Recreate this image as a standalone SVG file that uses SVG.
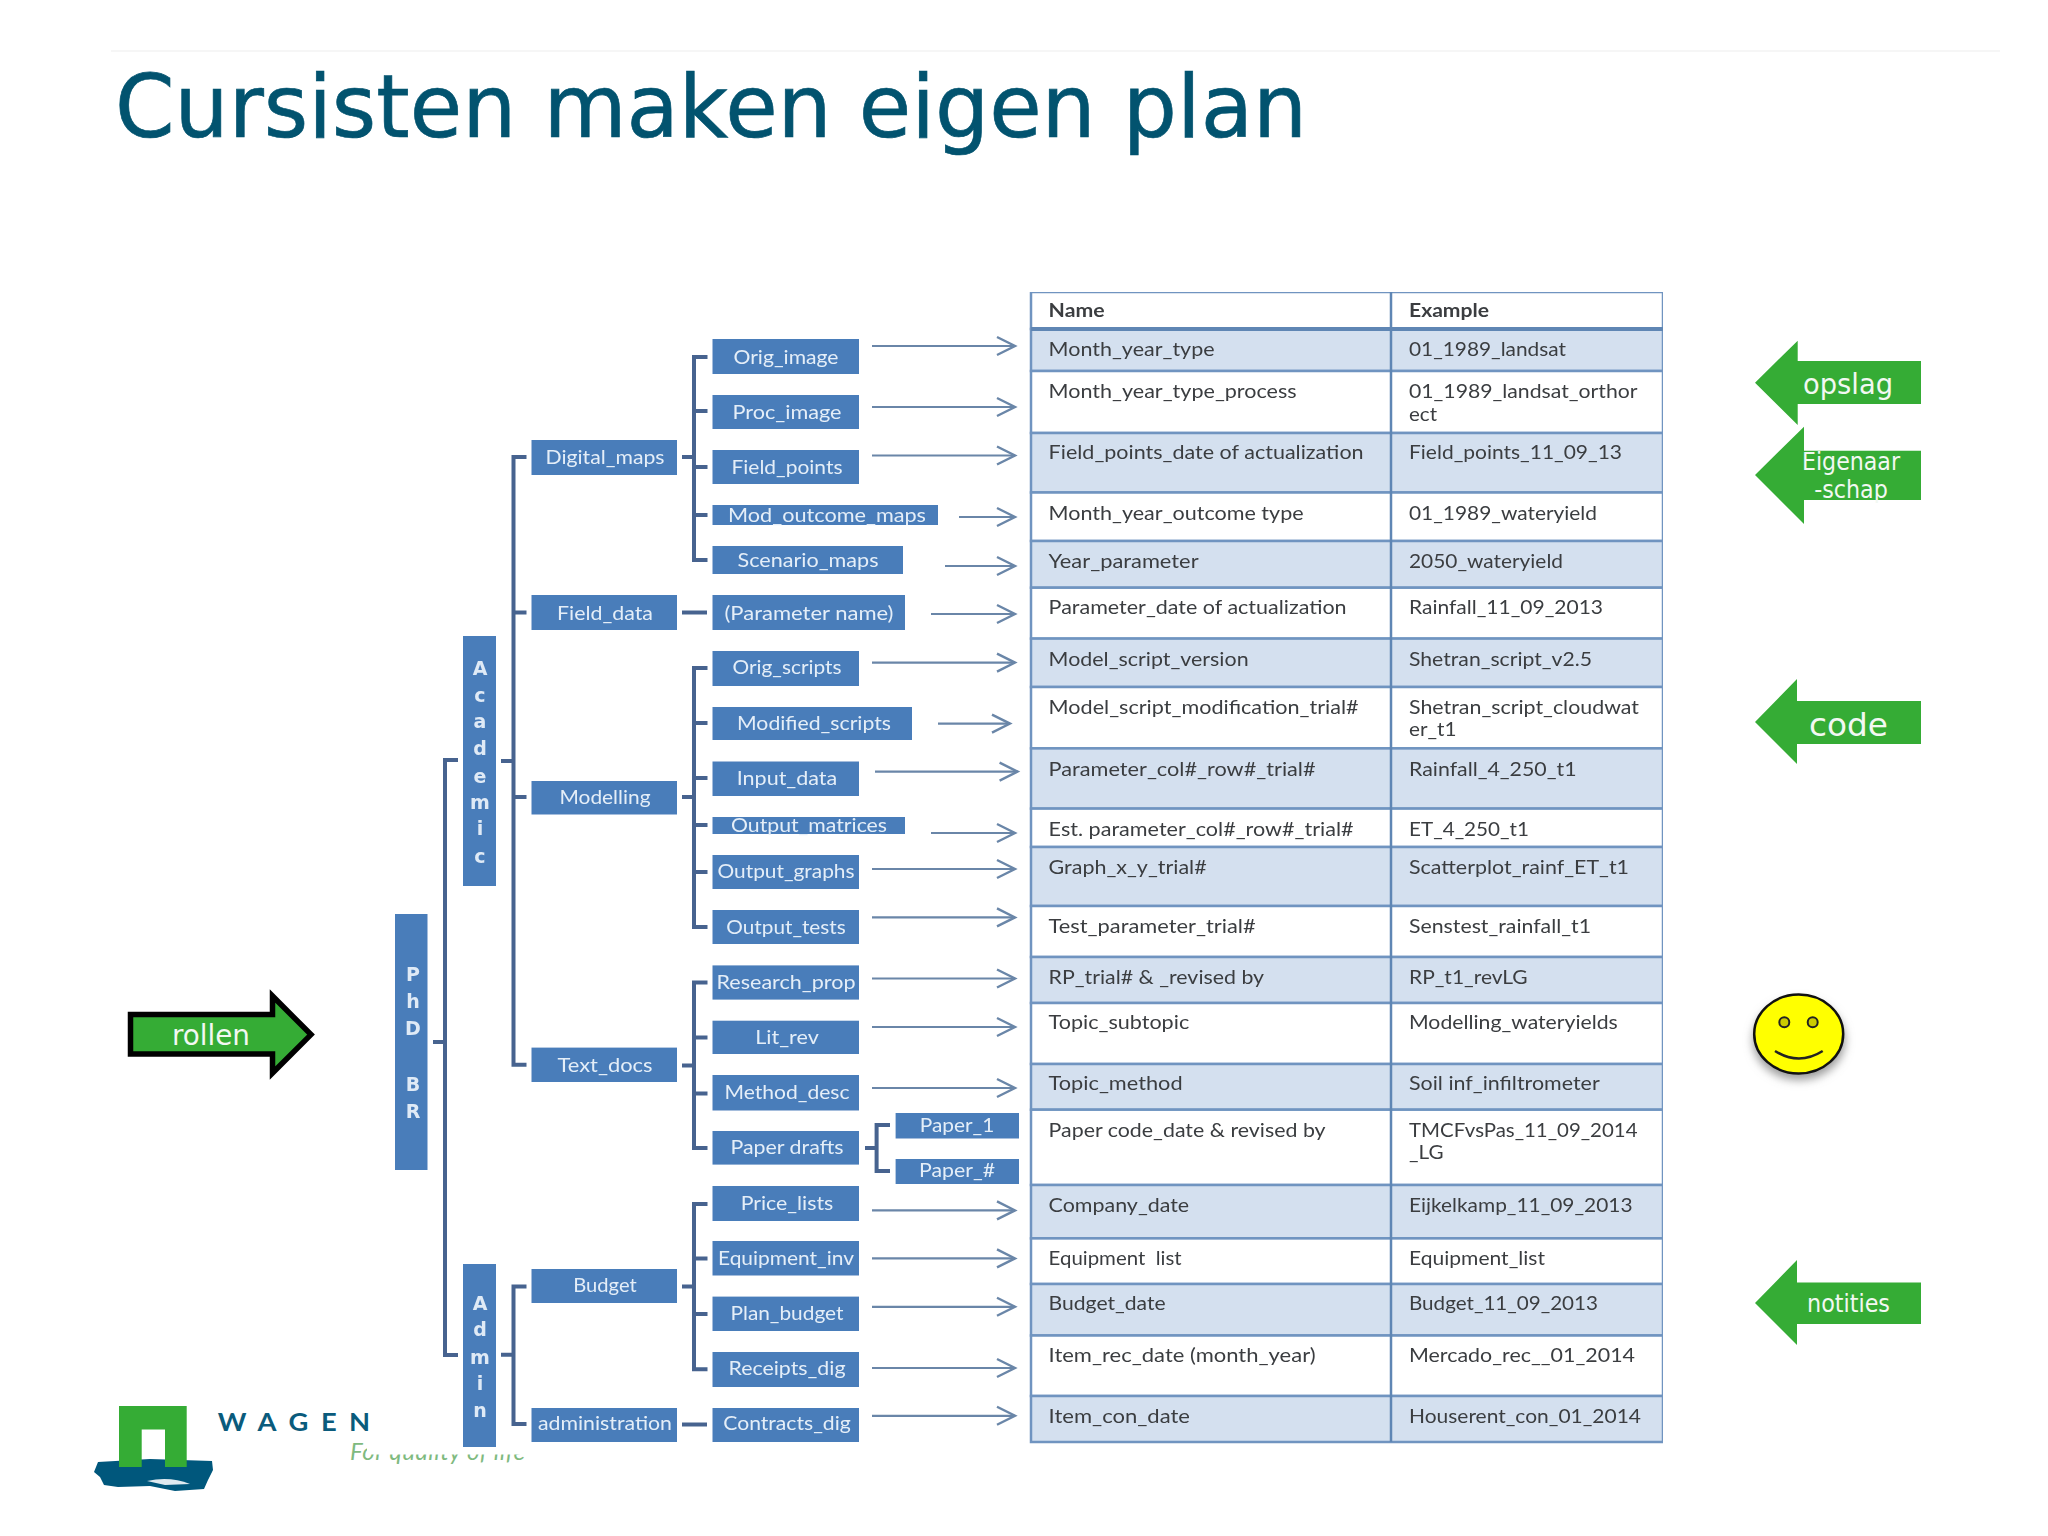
<svg xmlns="http://www.w3.org/2000/svg" width="2048" height="1536" viewBox="0 0 2048 1536">
<style>
text{font-family:"Lato","Noto Sans",sans-serif}
.v{font-family:"DejaVu Sans",sans-serif}
.b{fill:#4a7dba}
.l{fill:#e4eef8;font-size:20px;text-anchor:middle}
.c{fill:#dfeaf6;font-size:19px;font-weight:700;text-anchor:middle}
.w{fill:#fff;stroke:#6f94c0;stroke-width:2.5}
.s{fill:#d4e0ef;stroke:#6f94c0;stroke-width:2.5}
.t{fill:#3a3d40;font-size:19px}
.g{fill:#35ac35}
.gt{fill:#f2f8f2;text-anchor:middle}
.k{fill:none;stroke:#46638f;stroke-width:4}
.a{fill:none;stroke:#6a86a8;stroke-width:2.2;marker-end:url(#h)}
</style>
<defs>
<marker id="h" markerUnits="userSpaceOnUse" markerWidth="24" markerHeight="24" refX="20" refY="12" orient="auto"><path d="M2,3 L20,12 L2,21" fill="none" stroke="#6a86a8" stroke-width="2.4"/></marker>
<filter id="sh" x="-30%" y="-30%" width="160%" height="160%"><feGaussianBlur stdDeviation="5"/></filter>
<filter id="soft" x="0" y="0" width="100%" height="100%"><feGaussianBlur stdDeviation="0.55"/></filter>
<clipPath id="tagclip"><rect x="340" y="1440" width="27" height="28"/><rect x="367" y="1454.500" width="170" height="14"/></clipPath>
</defs>
<rect width="2048" height="1536" fill="#fff"/>
<line x1="111" y1="51" x2="2000" y2="51" stroke="#f3f3f3" stroke-width="1.5"/>
<g id="title"><text class="v" x="115" y="137" font-size="88" fill="#02536f" stroke="#02536f" stroke-width="0.7" textLength="1192" lengthAdjust="spacingAndGlyphs">Cursisten maken eigen plan</text></g>

<g id="picture" filter="url(#soft)">
<g id="table">
<rect class="w" x="1031" y="292" width="632" height="37"/>
<rect class="s" x="1031" y="329" width="632" height="42"/>
<rect class="w" x="1031" y="371" width="632" height="62"/>
<rect class="s" x="1031" y="433" width="632" height="59.500"/>
<rect class="w" x="1031" y="492.500" width="632" height="48.500"/>
<rect class="s" x="1031" y="541" width="632" height="46.700"/>
<rect class="w" x="1031" y="587.700" width="632" height="50.900"/>
<rect class="s" x="1031" y="638.600" width="632" height="48.400"/>
<rect class="w" x="1031" y="687" width="632" height="61.400"/>
<rect class="s" x="1031" y="748.400" width="632" height="60.200"/>
<rect class="w" x="1031" y="808.600" width="632" height="38.400"/>
<rect class="s" x="1031" y="847" width="632" height="59"/>
<rect class="w" x="1031" y="906" width="632" height="51"/>
<rect class="s" x="1031" y="957" width="632" height="46"/>
<rect class="w" x="1031" y="1003" width="632" height="61"/>
<rect class="s" x="1031" y="1064" width="632" height="45.700"/>
<rect class="w" x="1031" y="1109.700" width="632" height="75.300"/>
<rect class="s" x="1031" y="1185" width="632" height="53.400"/>
<rect class="w" x="1031" y="1238.400" width="632" height="45.600"/>
<rect class="s" x="1031" y="1284" width="632" height="51.500"/>
<rect class="w" x="1031" y="1335.500" width="632" height="60.500"/>
<rect class="s" x="1031" y="1396" width="632" height="46"/>
<line x1="1031" y1="329" x2="1663" y2="329" stroke="#5f86b4" stroke-width="4"/>
<line x1="1391" y1="292" x2="1391" y2="1442" stroke="#5f86b4" stroke-width="2.500"/>
<text class="t" x="1048.600" y="317" font-weight="700" textLength="56" lengthAdjust="spacingAndGlyphs">Name</text>
<text class="t" x="1409" y="317" font-weight="700" textLength="80" lengthAdjust="spacingAndGlyphs">Example</text>
<text class="t" x="1048.600" y="356" textLength="166" lengthAdjust="spacingAndGlyphs">Month_year_type</text>
<text class="t" x="1409" y="356" textLength="157" lengthAdjust="spacingAndGlyphs">01_1989_landsat</text>
<text class="t" x="1048.600" y="397.600" textLength="248" lengthAdjust="spacingAndGlyphs">Month_year_type_process</text>
<text class="t" x="1409" y="397.600" textLength="228.500" lengthAdjust="spacingAndGlyphs">01_1989_landsat_orthor</text>
<text class="t" x="1409" y="420.700" textLength="28" lengthAdjust="spacingAndGlyphs">ect</text>
<text class="t" x="1048.600" y="459" textLength="315" lengthAdjust="spacingAndGlyphs">Field_points_date of actualization</text>
<text class="t" x="1409" y="459" textLength="213" lengthAdjust="spacingAndGlyphs">Field_points_11_09_13</text>
<text class="t" x="1048.600" y="519.600" textLength="255" lengthAdjust="spacingAndGlyphs">Month_year_outcome type</text>
<text class="t" x="1409" y="519.600" textLength="188" lengthAdjust="spacingAndGlyphs">01_1989_wateryield</text>
<text class="t" x="1048.600" y="568" textLength="150" lengthAdjust="spacingAndGlyphs">Year_parameter</text>
<text class="t" x="1409" y="568" textLength="154" lengthAdjust="spacingAndGlyphs">2050_wateryield</text>
<text class="t" x="1048.600" y="614" textLength="298" lengthAdjust="spacingAndGlyphs">Parameter_date of actualization</text>
<text class="t" x="1409" y="614" textLength="194" lengthAdjust="spacingAndGlyphs">Rainfall_11_09_2013</text>
<text class="t" x="1048.600" y="665.700" textLength="200" lengthAdjust="spacingAndGlyphs">Model_script_version</text>
<text class="t" x="1409" y="665.700" textLength="183" lengthAdjust="spacingAndGlyphs">Shetran_script_v2.5</text>
<text class="t" x="1048.600" y="714" textLength="310" lengthAdjust="spacingAndGlyphs">Model_script_modification_trial#</text>
<text class="t" x="1409" y="714" textLength="230" lengthAdjust="spacingAndGlyphs">Shetran_script_cloudwat</text>
<text class="t" x="1409" y="736.400" textLength="47.500" lengthAdjust="spacingAndGlyphs">er_t1</text>
<text class="t" x="1048.600" y="776" textLength="267" lengthAdjust="spacingAndGlyphs">Parameter_col#_row#_trial#</text>
<text class="t" x="1409" y="776" textLength="167.500" lengthAdjust="spacingAndGlyphs">Rainfall_4_250_t1</text>
<text class="t" x="1048.600" y="836" textLength="305" lengthAdjust="spacingAndGlyphs">Est. parameter_col#_row#_trial#</text>
<text class="t" x="1409" y="836" textLength="120" lengthAdjust="spacingAndGlyphs">ET_4_250_t1</text>
<text class="t" x="1048.600" y="874.400" textLength="158" lengthAdjust="spacingAndGlyphs">Graph_x_y_trial#</text>
<text class="t" x="1409" y="874.400" textLength="220" lengthAdjust="spacingAndGlyphs">Scatterplot_rainf_ET_t1</text>
<text class="t" x="1048.600" y="932.500" textLength="207" lengthAdjust="spacingAndGlyphs">Test_parameter_trial#</text>
<text class="t" x="1409" y="932.500" textLength="182" lengthAdjust="spacingAndGlyphs">Senstest_rainfall_t1</text>
<text class="t" x="1048.600" y="983.500" textLength="215.500" lengthAdjust="spacingAndGlyphs">RP_trial# &amp; _revised by</text>
<text class="t" x="1409" y="983.500" textLength="118.700" lengthAdjust="spacingAndGlyphs">RP_t1_revLG</text>
<text class="t" x="1048.600" y="1029.300" textLength="140.600" lengthAdjust="spacingAndGlyphs">Topic_subtopic</text>
<text class="t" x="1409" y="1029.300" textLength="208.800" lengthAdjust="spacingAndGlyphs">Modelling_wateryields</text>
<text class="t" x="1048.600" y="1090.400" textLength="134" lengthAdjust="spacingAndGlyphs">Topic_method</text>
<text class="t" x="1409" y="1090.400" textLength="190.700" lengthAdjust="spacingAndGlyphs">Soil inf_infiltrometer</text>
<text class="t" x="1048.600" y="1136.500" textLength="277" lengthAdjust="spacingAndGlyphs">Paper code_date &amp; revised by</text>
<text class="t" x="1409" y="1136.500" textLength="228.500" lengthAdjust="spacingAndGlyphs">TMCFvsPas_11_09_2014</text>
<text class="t" x="1409" y="1159" textLength="34.500" lengthAdjust="spacingAndGlyphs">_LG</text>
<text class="t" x="1048.600" y="1211.800" textLength="140.600" lengthAdjust="spacingAndGlyphs">Company_date</text>
<text class="t" x="1409" y="1211.800" textLength="223.500" lengthAdjust="spacingAndGlyphs">Eijkelkamp_11_09_2013</text>
<text class="t" x="1048.600" y="1264.500" textLength="133" lengthAdjust="spacingAndGlyphs" xml:space="preserve">Equipment  list</text>
<text class="t" x="1409" y="1264.500" textLength="136" lengthAdjust="spacingAndGlyphs">Equipment_list</text>
<text class="t" x="1048.600" y="1310.300" textLength="117" lengthAdjust="spacingAndGlyphs">Budget_date</text>
<text class="t" x="1409" y="1310.300" textLength="189" lengthAdjust="spacingAndGlyphs">Budget_11_09_2013</text>
<text class="t" x="1048.600" y="1361.500" textLength="267" lengthAdjust="spacingAndGlyphs">Item_rec_date (month_year)</text>
<text class="t" x="1409" y="1361.500" textLength="226" lengthAdjust="spacingAndGlyphs">Mercado_rec__01_2014</text>
<text class="t" x="1048.600" y="1422.600" textLength="141.400" lengthAdjust="spacingAndGlyphs">Item_con_date</text>
<text class="t" x="1409" y="1422.600" textLength="232" lengthAdjust="spacingAndGlyphs">Houserent_con_01_2014</text>
</g>

<g id="connectors">
<path class="k" d="M458,760H445V1355H458M433,1042H445"/>
<path class="k" d="M526.500,457H513.500V1064.700H526.500M513.500,612.500H526.500M513.500,797H526.500M501,761H513.500"/>
<path class="k" d="M707.500,357H694V560H707.500M694,411H707.500M694,467H707.500M694,515H707.500M682,457H694"/>
<path class="k" d="M682,612.500H707"/>
<path class="k" d="M707.500,668H694V927H707.500M694,723H707.500M694,778H707.500M694,825H707.500M694,872H707.500M682,797H694"/>
<path class="k" d="M707.500,982.500H694V1148H707.500M694,1037.400H707.500M694,1093.400H707.500M682,1065.400H694"/>
<path class="k" d="M890,1125H876.600V1171H890M865,1148H876.600"/>
<path class="k" d="M707.500,1204H694V1369.300H707.500M694,1258.400H707.500M694,1314H707.500M682,1286.400H694"/>
<path class="k" d="M526.500,1286.400H513.500V1424H526.500M501,1354.700H513.500"/>
<path class="k" d="M682,1424.500H707"/>
<line class="a" x1="872" y1="346" x2="1015" y2="346"/>
<line class="a" x1="872" y1="407" x2="1015" y2="407"/>
<line class="a" x1="872" y1="455.500" x2="1015" y2="455.500"/>
<line class="a" x1="959" y1="517" x2="1015" y2="517"/>
<line class="a" x1="945" y1="566" x2="1015" y2="566"/>
<line class="a" x1="931" y1="614" x2="1015" y2="614"/>
<line class="a" x1="872" y1="662.600" x2="1015" y2="662.600"/>
<line class="a" x1="938" y1="723.600" x2="1010" y2="723.600"/>
<line class="a" x1="875" y1="771.600" x2="1017.600" y2="771.600"/>
<line class="a" x1="931" y1="833" x2="1015" y2="833"/>
<line class="a" x1="872" y1="869" x2="1015" y2="869"/>
<line class="a" x1="872" y1="917.400" x2="1015" y2="917.400"/>
<line class="a" x1="872" y1="978.500" x2="1015" y2="978.500"/>
<line class="a" x1="872" y1="1027" x2="1015" y2="1027"/>
<line class="a" x1="872" y1="1088" x2="1015" y2="1088"/>
<line class="a" x1="872" y1="1210.400" x2="1015" y2="1210.400"/>
<line class="a" x1="872" y1="1258.400" x2="1015" y2="1258.400"/>
<line class="a" x1="872" y1="1306.800" x2="1015" y2="1306.800"/>
<line class="a" x1="872" y1="1368" x2="1015" y2="1368"/>
<line class="a" x1="872" y1="1415.800" x2="1015" y2="1415.800"/>
</g>

<g id="n-phd"><rect class="b" x="395" y="914" width="32.500" height="256"/>
<text class="c v" x="413" y="980.700">P</text><text class="c v" x="413" y="1008">h</text><text class="c v" x="413" y="1034.500">D</text><text class="c v" x="413" y="1091">B</text><text class="c v" x="413" y="1118">R</text></g>
<g id="n-academic"><rect class="b" x="463" y="636" width="33" height="250"/>
<text class="c v" x="480" y="675">A</text><text class="c v" x="480" y="702">c</text><text class="c v" x="480" y="728">a</text><text class="c v" x="480" y="755">d</text><text class="c v" x="480" y="782.500">e</text><text class="c v" x="480" y="808.600">m</text><text class="c v" x="480" y="835">i</text><text class="c v" x="480" y="862.500">c</text></g>
<g id="n-admin"><rect class="b" x="463" y="1264" width="33" height="183"/>
<text class="c v" x="480" y="1310">A</text><text class="c v" x="480" y="1336">d</text><text class="c v" x="480" y="1363.500">m</text><text class="c v" x="480" y="1390">i</text><text class="c v" x="480" y="1417">n</text></g>

<g id="n-digital"><rect class="b" x="531.500" y="440" width="145.500" height="35"/><text class="l" x="605" y="464" textLength="119" lengthAdjust="spacingAndGlyphs">Digital_maps</text></g>
<g id="n-fielddata"><rect class="b" x="531.500" y="595" width="145.500" height="35"/><text class="l" x="605" y="620" textLength="96" lengthAdjust="spacingAndGlyphs">Field_data</text></g>
<g id="n-modelling"><rect class="b" x="531.500" y="781" width="145.500" height="33.500"/><text class="l" x="605" y="804" textLength="91" lengthAdjust="spacingAndGlyphs">Modelling</text></g>
<g id="n-textdocs"><rect class="b" x="531.500" y="1047.600" width="145.500" height="34.400"/><text class="l" x="605" y="1071.500" textLength="95" lengthAdjust="spacingAndGlyphs">Text_docs</text></g>
<g id="n-budget"><rect class="b" x="531.500" y="1269" width="145.500" height="34"/><text class="l" x="605" y="1292" textLength="63.500" lengthAdjust="spacingAndGlyphs">Budget</text></g>
<g id="n-administration"><rect class="b" x="531.500" y="1408" width="145.500" height="34"/><text class="l" x="605" y="1430" textLength="134" lengthAdjust="spacingAndGlyphs">administration</text></g>

<g id="n-origimage"><rect class="b" x="712.500" y="339" width="146.500" height="35"/><text class="l" x="786" y="364" textLength="105" lengthAdjust="spacingAndGlyphs">Orig_image</text></g>
<g id="n-procimage"><rect class="b" x="712.500" y="395" width="146.500" height="34"/><text class="l" x="787" y="418.600" textLength="109" lengthAdjust="spacingAndGlyphs">Proc_image</text></g>
<g id="n-fieldpoints"><rect class="b" x="712.500" y="450" width="146.500" height="34"/><text class="l" x="787" y="474" textLength="111" lengthAdjust="spacingAndGlyphs">Field_points</text></g>
<g id="n-modoutcome"><rect class="b" x="712.500" y="505" width="225.500" height="20"/><text class="l" x="827" y="522" textLength="198" lengthAdjust="spacingAndGlyphs">Mod_outcome_maps</text></g>
<g id="n-scenario"><rect class="b" x="712.500" y="546" width="190.500" height="28"/><text class="l" x="808" y="567" textLength="141" lengthAdjust="spacingAndGlyphs">Scenario_maps</text></g>
<g id="n-paramname"><rect class="b" x="712.500" y="595" width="192.500" height="35"/><text class="l" x="809" y="620" textLength="169" lengthAdjust="spacingAndGlyphs">(Parameter name)</text></g>
<g id="n-origscripts"><rect class="b" x="712.500" y="651" width="146.500" height="35"/><text class="l" x="787" y="674" textLength="109" lengthAdjust="spacingAndGlyphs">Orig_scripts</text></g>
<g id="n-modified"><rect class="b" x="712.500" y="707" width="199.500" height="33"/><text class="l" x="814" y="730" textLength="154" lengthAdjust="spacingAndGlyphs">Modified_scripts</text></g>
<g id="n-input"><rect class="b" x="712.500" y="761.500" width="146.500" height="34.500"/><text class="l" x="787" y="785" textLength="100.600" lengthAdjust="spacingAndGlyphs">Input_data</text></g>
<g id="n-matrices"><rect class="b" x="712.500" y="817" width="192.500" height="17"/><text class="l" x="809" y="832" textLength="156" lengthAdjust="spacingAndGlyphs">Output_matrices</text></g>
<g id="n-graphs"><rect class="b" x="712.500" y="855" width="146.500" height="34"/><text class="l" x="786" y="878" textLength="137" lengthAdjust="spacingAndGlyphs">Output_graphs</text></g>
<g id="n-tests"><rect class="b" x="712.500" y="910" width="146.500" height="34"/><text class="l" x="786" y="933.500" textLength="119.500" lengthAdjust="spacingAndGlyphs">Output_tests</text></g>
<g id="n-research"><rect class="b" x="712.500" y="965.400" width="146.500" height="34.200"/><text class="l" x="786" y="989" textLength="139" lengthAdjust="spacingAndGlyphs">Research_prop</text></g>
<g id="n-litrev"><rect class="b" x="712.500" y="1020.700" width="146.500" height="33.300"/><text class="l" x="787" y="1043.500" textLength="63.500" lengthAdjust="spacingAndGlyphs">Lit_rev</text></g>
<g id="n-method"><rect class="b" x="712.500" y="1075" width="146.500" height="35.500"/><text class="l" x="787" y="1099" textLength="125" lengthAdjust="spacingAndGlyphs">Method_desc</text></g>
<g id="n-paperdrafts"><rect class="b" x="712.500" y="1131" width="146.500" height="33.600"/><text class="l" x="787" y="1154" textLength="113" lengthAdjust="spacingAndGlyphs">Paper drafts</text></g>
<g id="n-paper1"><rect class="b" x="895.600" y="1113" width="123.400" height="25.500"/><text class="l" x="957" y="1131.500" textLength="74.500" lengthAdjust="spacingAndGlyphs">Paper_1</text></g>
<g id="n-paperh"><rect class="b" x="895.600" y="1159" width="123.400" height="25"/><text class="l" x="957" y="1177" textLength="76" lengthAdjust="spacingAndGlyphs">Paper_#</text></g>
<g id="n-price"><rect class="b" x="712.500" y="1186" width="146.500" height="35"/><text class="l" x="787" y="1209.500" textLength="92.600" lengthAdjust="spacingAndGlyphs">Price_lists</text></g>
<g id="n-equipment"><rect class="b" x="712.500" y="1241" width="146.500" height="34.500"/><text class="l" x="786" y="1264.500" textLength="136" lengthAdjust="spacingAndGlyphs">Equipment_inv</text></g>
<g id="n-plan"><rect class="b" x="712.500" y="1296.600" width="146.500" height="34.400"/><text class="l" x="787" y="1319.500" textLength="113" lengthAdjust="spacingAndGlyphs">Plan_budget</text></g>
<g id="n-receipts"><rect class="b" x="712.500" y="1352" width="146.500" height="35"/><text class="l" x="787" y="1375" textLength="117" lengthAdjust="spacingAndGlyphs">Receipts_dig</text></g>
<g id="n-contracts"><rect class="b" x="712.500" y="1408" width="146.500" height="34"/><text class="l" x="787" y="1430" textLength="127.500" lengthAdjust="spacingAndGlyphs">Contracts_dig</text></g>
</g>

<g id="rollen"><polygon class="g" points="130.500,1014.500 272.500,1014.500 272.500,996 311,1034.600 272.500,1073 272.500,1054 130.500,1054" stroke="#000" stroke-width="5.500"/>
<text class="v gt" x="211" y="1045" font-size="29" textLength="78" lengthAdjust="spacingAndGlyphs">rollen</text></g>
<g id="opslag"><polygon class="g" points="1755,382.700 1797.700,340.700 1797.700,361 1921,361 1921,404 1797.700,404 1797.700,425"/>
<text class="v gt" x="1848" y="394" font-size="29" textLength="90" lengthAdjust="spacingAndGlyphs">opslag</text></g>
<g id="eigenaar"><polygon class="g" points="1755,475 1804,426.700 1804,450.700 1921,450.700 1921,500 1804,500 1804,524"/>
<text class="v gt" x="1851" y="470" font-size="24" textLength="98" lengthAdjust="spacingAndGlyphs">Eigenaar</text>
<text class="v gt" x="1851" y="498" font-size="24" textLength="73.700" lengthAdjust="spacingAndGlyphs">-schap</text></g>
<g id="code"><polygon class="g" points="1755,722 1797,679 1797,701 1921,701 1921,744 1797,744 1797,764"/>
<text class="v gt" x="1848.500" y="735.600" font-size="32" textLength="79" lengthAdjust="spacingAndGlyphs">code</text></g>
<g id="notities"><polygon class="g" points="1755,1303 1797,1260 1797,1282.500 1921,1282.500 1921,1324 1797,1324 1797,1345"/>
<text class="v gt" x="1848.500" y="1312" font-size="24" textLength="83" lengthAdjust="spacingAndGlyphs">notities</text></g>

<g id="smiley">
<ellipse cx="1799" cy="1040" rx="46" ry="40" fill="#999" filter="url(#sh)"/>
<ellipse cx="1798.700" cy="1034" rx="44.500" ry="39.500" fill="#ff0" stroke="#111" stroke-width="2.500"/>
<circle cx="1784.300" cy="1022.300" r="5" fill="#cc0" stroke="#222" stroke-width="2"/>
<circle cx="1812.700" cy="1022.300" r="5" fill="#cc0" stroke="#222" stroke-width="2"/>
<path d="M1775,1051Q1799,1066 1822.700,1051" fill="none" stroke="#222" stroke-width="2.500"/>
</g>

<g id="logo">
<path d="M98,1462L150,1459L212,1461L213,1470L208,1480L204,1489L175,1491L150,1486L118,1487L104,1485L100,1477L94,1472Z" fill="#00577c"/>
<path d="M147,1481Q170,1476 190,1484L165,1485Z" fill="#dfeaf0"/>
<path d="M119,1406H186.700V1467H165V1429.500H141.700V1467H119Z" fill="#35ac35"/>
<text x="217.700" y="1431" font-family="DejaVu Sans,sans-serif" font-weight="700" font-size="24" letter-spacing="11" fill="#0a5b7c" textLength="165" lengthAdjust="spacingAndGlyphs">WAGEN</text>
<text x="350" y="1460" clip-path="url(#tagclip)" font-style="italic" font-size="24" fill="#7fba7f" textLength="175" lengthAdjust="spacing">For quality of life</text>
</g>
</svg>
